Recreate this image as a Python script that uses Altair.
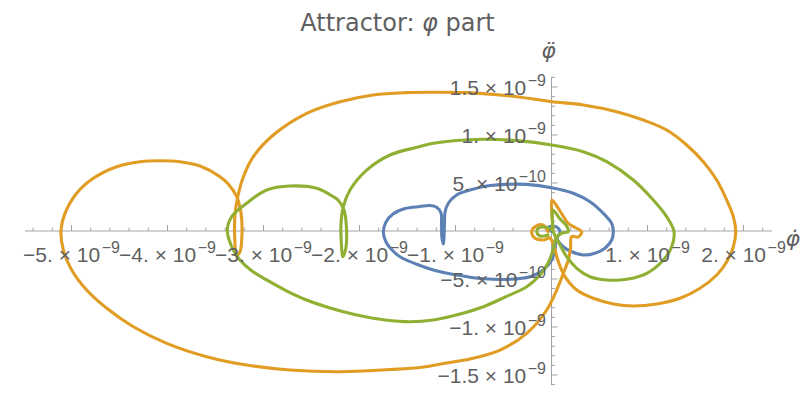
import altair as alt
import pandas as pd

UNIT = 1e-9  # all arrays below are in units of 1e-9

# ---- curve data (phi-dot, phi-double-dot) ----
blue_v = [0.016, -0.047, 0.016, 0.071, 0.089, 0.057, 0.123, 0.210, 0.331, 0.453, 0.557, 0.627, 0.644,
          0.627, 0.540, 0.401, 0.227, 0.002, -0.258, -0.467, -0.675, -0.849, -0.988, -1.075, -1.109,
          -1.115, -1.122, -1.127, -1.141, -1.146, -1.151, -1.193, -1.266, -1.370, -1.526, -1.651, -1.724,
          -1.752, -1.724, -1.661, -1.578, -1.404, -1.231, -0.988, -0.710, -0.432, -0.224, -0.085, 0.002,
          0.036, 0.042]
blue_a = [-0.010, 0.028, 0.052, 0.028, -0.024, -0.073, -0.164, -0.216, -0.250, -0.232, -0.180, -0.094, -0.007,
          0.080, 0.184, 0.305, 0.393, 0.451, 0.486, 0.486, 0.469, 0.427, 0.375, 0.289, 0.198,
          0.063, -0.094, -0.135, -0.073, 0.063, 0.188, 0.245, 0.266, 0.255, 0.234, 0.177, 0.094,
          -0.007, -0.115, -0.198, -0.268, -0.347, -0.406, -0.458, -0.497, -0.503, -0.476, -0.406, -0.302,
          -0.198, -0.115]

orange_v = [-0.036, -0.089, -0.172, -0.206, -0.172, -0.085, -0.016, 0.026, 0.071, 0.141, 0.263, 0.435,
            0.644, 0.852, 1.096, 1.339, 1.547, 1.721, 1.825, 1.894, 1.919, 1.894, 1.825, 1.721, 1.581,
            1.408, 1.200, 0.956, 0.679, 0.331, 0.002, -0.190, -0.536, -0.883, -1.231, -1.508, -1.856,
            -2.203, -2.550, -2.898, -3.106, -3.214, -3.271, -3.297, -3.300, -3.279, -3.245, -3.224, -3.234,
            -3.279, -3.367, -3.453, -3.661, -3.870, -4.078, -4.286, -4.529, -4.773, -4.946, -5.068, -5.109,
            -5.085, -4.998, -4.842, -4.633, -4.356, -4.008, -3.592, -3.175, -2.724, -2.203, -1.682, -1.370,
            -1.092, -0.849, -0.536, -0.258, -0.050, 0.054, 0.123, 0.175, 0.198, 0.210, 0.276, 0.315,
            0.263, 0.175, 0.089, 0.005, 0.005, 0.016]
orange_a = [-0.010, 0.063, 0.045, -0.007, -0.076, -0.094, -0.073, -0.164, -0.320, -0.476, -0.615, -0.701,
            -0.760, -0.781, -0.760, -0.701, -0.597, -0.458, -0.320, -0.164, -0.007, 0.149, 0.323, 0.531, 0.722,
            0.896, 1.052, 1.156, 1.243, 1.313, 1.347, 1.375, 1.417, 1.441, 1.445, 1.441, 1.417,
            1.347, 1.226, 1.000, 0.774, 0.552, 0.344, 0.167, -0.059, -0.250, -0.216, -0.024, 0.184,
            0.357, 0.490, 0.566, 0.677, 0.722, 0.732, 0.722, 0.670, 0.549, 0.393, 0.184, 0.010,
            -0.198, -0.406, -0.615, -0.805, -0.997, -1.170, -1.309, -1.396, -1.448, -1.466, -1.443, -1.422,
            -1.375, -1.333, -1.240, -1.066, -0.823, -0.615, -0.441, -0.302, -0.177, -0.059, -0.063, -0.007,
            0.028, 0.080, 0.208, 0.323, 0.167, 0.031]

green_v = [-0.036, -0.120, -0.154, -0.138, -0.068, 0.005, 0.047, 0.089, 0.158, 0.263, 0.401, 0.575,
           0.783, 0.992, 1.165, 1.252, 1.276, 1.200, 1.060, 0.852, 0.575, 0.331, 0.002, -0.363, -0.710,
           -1.231, -1.411, -1.682, -1.925, -2.099, -2.169, -2.193, -2.188, -2.175, -2.146, -2.135, -2.161,
           -2.224, -2.273, -2.446, -2.724, -2.967, -3.175, -3.331, -3.377, -3.331, -3.245, -3.120, -2.967,
           -2.776, -2.550, -2.307, -2.029, -1.734, -1.474, -1.231, -0.953, -0.710, -0.484, -0.258, -0.120,
           -0.036, 0.016, 0.047, 0.109, 0.175, 0.158, 0.089, 0.013, 0.010, 0.016]
green_a = [-0.042, -0.052, -0.007, 0.028, 0.042, 0.010, -0.073, -0.146, -0.268, -0.389, -0.476, -0.510,
           -0.503, -0.441, -0.302, -0.164, -0.007, 0.149, 0.323, 0.531, 0.722, 0.826, 0.896, 0.941, 0.955,
           0.914, 0.870, 0.792, 0.635, 0.427, 0.253, 0.063, -0.146, -0.268, -0.198, 0.010, 0.219,
           0.323, 0.357, 0.445, 0.469, 0.427, 0.289, 0.149, 0.010, -0.164, -0.302, -0.417, -0.510,
           -0.615, -0.719, -0.802, -0.875, -0.927, -0.945, -0.927, -0.865, -0.789, -0.688, -0.580, -0.458,
           -0.333, -0.198, -0.073, -0.021, -0.007, 0.052, 0.125, 0.219, 0.094, -0.010]

series_names = ["blue", "orange", "green"]
series_colors = ["#5E81B5", "#E19C24", "#8FB032"]

# ---- axes ----
x_major = [-5, -4, -3, -2, -1, 1, 2]
x_major_base = ["−5. × 10", "−4. × 10", "−3. × 10", "−2. × 10", "−1. × 10", "1. × 10", "2. × 10"]
x_major_exp = ["−9", "−9", "−9", "−9", "−9", "−9", "−9"]
y_major = [-1.5, -1.0, -0.5, 0.5, 1.0, 1.5]
y_major_base = ["−1.5 × 10", "−1. × 10", "−5. × 10", "5. × 10", "1. × 10", "1.5 × 10"]
y_major_exp = ["−9", "−9", "−10", "−10", "−9", "−9"]
x_minor = [round(-5.4 + 0.2 * k, 2) for k in range(39)]
x_minor = [v for v in x_minor if abs(v - round(v)) > 1e-6]
y_minor = [round(-1.6 + 0.1 * k, 2) for k in range(33)]
y_minor = [v for v in y_minor if abs(v * 2 - round(v * 2)) > 1e-6]
x_axis_range = [-5.484, 2.297]
y_axis_range = [-1.605, 1.604]

title_parts = ["Attractor:", "φ", "part"]
x_title = "φ\u0307"
y_title = "φ\u0308"

# ---- layout / style ----
W, H = 785, 378
X_DOM = [-5.6615 * UNIT, 2.5156 * UNIT]
Y_DOM = [-1.6146 * UNIT, 2.3229 * UNIT]
AXIS_COLOR = "#a3a3a3"
LABEL_COLOR = "#5f5f5f"
FONT = "Liberation Sans"
BASE_SIZE = 21
EXP_SIZE = 16
GAP = 1.5
# Liberation Sans advance widths (per 1000 em) for the label characters
CW = {"−": 584, ".": 278, " ": 278, "×": 584}
for d in "0123456789":
    CW[d] = 556


def text_w(s, size):
    return sum(CW.get(c, 556) for c in s) * size / 1000.0


xs = alt.Scale(domain=X_DOM, nice=False, zero=False)
ys = alt.Scale(domain=Y_DOM, nice=False, zero=False)


def X(f):
    return alt.X(f, scale=xs, axis=None)


def Y(f):
    return alt.Y(f, scale=ys, axis=None)


def curve_frame(name, v, a):
    return pd.DataFrame({"series": name, "i": list(range(len(v))),
                         "v": [p * UNIT for p in v], "a": [q * UNIT for q in a]})


curves = pd.concat([curve_frame("blue", blue_v, blue_a),
                    curve_frame("orange", orange_v, orange_a),
                    curve_frame("green", green_v, green_a)], ignore_index=True)

one = pd.DataFrame({"k": [0]})
layers = []

# axis lines
layers.append(alt.Chart(one).mark_rule(color=AXIS_COLOR, strokeWidth=1).encode(
    x=X("x1:Q"), x2="x2:Q", y=Y("y0:Q")
).transform_calculate(x1=str(x_axis_range[0] * UNIT), x2=str(x_axis_range[1] * UNIT), y0="0"))
layers.append(alt.Chart(one).mark_rule(color=AXIS_COLOR, strokeWidth=1).encode(
    y=Y("y1:Q"), y2="y2:Q", x=X("x0:Q")
).transform_calculate(y1=str(y_axis_range[0] * UNIT), y2=str(y_axis_range[1] * UNIT), x0="0"))

# ticks (x ticks point up, y ticks point right)
xt_major = pd.DataFrame({"v": [p * UNIT for p in x_major], "a": 0.0})
xt_minor = pd.DataFrame({"v": [p * UNIT for p in x_minor], "a": 0.0})
yt_major = pd.DataFrame({"v": 0.0, "a": [p * UNIT for p in y_major]})
yt_minor = pd.DataFrame({"v": 0.0, "a": [p * UNIT for p in y_minor]})
for df, size in [(xt_major, 6), (xt_minor, 3.5)]:
    layers.append(alt.Chart(df).mark_tick(orient="vertical", size=size, thickness=1, color=AXIS_COLOR,
                                          yOffset=-size / 2, opacity=1).encode(x=X("v:Q"), y=Y("a:Q")))
for df, size in [(yt_major, 6), (yt_minor, 3.5)]:
    layers.append(alt.Chart(df).mark_tick(orient="horizontal", size=size, thickness=1, color=AXIS_COLOR,
                                          xOffset=size / 2, opacity=1).encode(x=X("v:Q"), y=Y("a:Q")))

# curves, drawn blue, orange, green
for name in series_names:
    layers.append(alt.Chart(curves).transform_filter(alt.datum.series == name).mark_line(
        strokeWidth=3.1, interpolate="catmull-rom", strokeCap="round", strokeJoin="round").encode(
        x=X("v:Q"), y=Y("a:Q"), order="i:Q",
        color=alt.Color("series:N", scale=alt.Scale(domain=series_names, range=series_colors), legend=None),
    ))

# tick labels: base text plus a raised, smaller exponent
for v, b, e in zip(x_major, x_major_base, x_major_exp):
    wb, we = text_w(b, BASE_SIZE), text_w(e, EXP_SIZE)
    tot = wb + GAP + we
    dxb = -tot / 2 + wb
    d = pd.DataFrame({"v": [v * UNIT], "a": [0.0], "b": [b], "e": [e]})
    layers.append(alt.Chart(d).mark_text(font=FONT, fontSize=BASE_SIZE, color=LABEL_COLOR, align="right",
                                         baseline="alphabetic", dx=dxb, dy=31).encode(
        x=X("v:Q"), y=Y("a:Q"), text="b:N"))
    layers.append(alt.Chart(d).mark_text(font=FONT, fontSize=EXP_SIZE, color=LABEL_COLOR, align="left",
                                         baseline="alphabetic", dx=dxb + GAP, dy=22).encode(
        x=X("v:Q"), y=Y("a:Q"), text="e:N"))
for v, b, e in zip(y_major, y_major_base, y_major_exp):
    we = text_w(e, EXP_SIZE)
    d = pd.DataFrame({"v": [0.0], "a": [v * UNIT], "b": [b], "e": [e]})
    layers.append(alt.Chart(d).mark_text(font=FONT, fontSize=BASE_SIZE, color=LABEL_COLOR, align="right",
                                         baseline="alphabetic", dx=-5.5 - we - GAP, dy=8.5).encode(
        x=X("v:Q"), y=Y("a:Q"), text="b:N"))
    layers.append(alt.Chart(d).mark_text(font=FONT, fontSize=EXP_SIZE, color=LABEL_COLOR, align="right",
                                         baseline="alphabetic", dx=-5.5, dy=-0.5).encode(
        x=X("v:Q"), y=Y("a:Q"), text="e:N"))

# plot title: "Attractor: " + italic phi + " part"
TITLE_SIZE = 24
t_styles = ["normal", "italic", "normal"]
t_aligns = ["right", "center", "left"]
t_xs = [406.5, 422, 437.5]
for part, st, al, px in zip(title_parts, t_styles, t_aligns, t_xs):
    layers.append(alt.Chart(pd.DataFrame({"t": [part]})).mark_text(
        font="DejaVu Sans", fontSize=TITLE_SIZE, fontStyle=st, color=LABEL_COLOR, align=al,
        baseline="alphabetic").encode(x=alt.value(px), y=alt.value(22.5), text="t:N"))

# axis names
layers.append(alt.Chart(pd.DataFrame({"t": [x_title]})).mark_text(
    font="DejaVu Sans", fontSize=22, fontStyle="italic", color=LABEL_COLOR, align="right",
    baseline="alphabetic").encode(x=alt.value(792), y=alt.value(238), text="t:N"))
layers.append(alt.Chart(pd.DataFrame({"t": [y_title]})).mark_text(
    font="DejaVu Sans", fontSize=22, fontStyle="italic", color=LABEL_COLOR, align="center",
    baseline="alphabetic").encode(x=alt.value(540.5), y=alt.value(50), text="t:N"))

chart = alt.layer(*layers).properties(
    width=W, height=H,
    autosize=alt.AutoSizeParams(type="none"),
    padding={"left": 0, "top": 0, "right": 8, "bottom": 0},
).configure_view(stroke=None)

chart.save("out.html", embed_options={"renderer": "svg", "actions": False})
